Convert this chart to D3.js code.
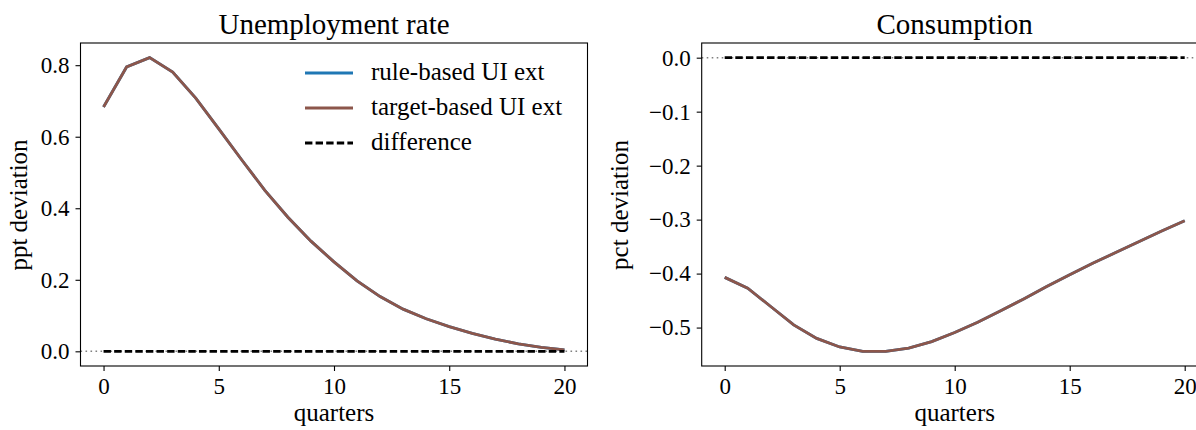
<!DOCTYPE html>
<html>
<head>
<meta charset="utf-8">
<script src="https://cdn.jsdelivr.net/npm/d3@7"></script>
<style>
  html, body { margin: 0; padding: 0; background: #fff; }
  svg { display: block; }
  svg text { font-family: "Liberation Serif", "DejaVu Serif", serif; fill: #000; }
  .tick text { font-size: 23px; }
  .tick line { stroke: #000; stroke-width: 1.1; }
  .spine { fill: none; stroke: #000; stroke-width: 1.1; }
  .title { font-size: 29px; }
  .axis-label { font-size: 25px; }
  .legend-text { font-size: 25px; }
</style>
</head>
<body>
<svg id="chart" width="1196" height="430"></svg>
<script>
const QUARTERS = d3.range(0, 21);
const UNEMP_RULE = [0.683, 0.795, 0.821, 0.781, 0.708, 0.622, 0.535, 0.450, 0.375, 0.308, 0.250,
  0.197, 0.153, 0.118, 0.091, 0.069, 0.050, 0.034, 0.021, 0.011, 0.004];
const UNEMP_TARGET = [0.683, 0.795, 0.821, 0.781, 0.708, 0.622, 0.535, 0.450, 0.375, 0.308, 0.250,
  0.197, 0.153, 0.118, 0.091, 0.069, 0.050, 0.034, 0.021, 0.011, 0.004];
const CONS_RULE = [-0.407, -0.427, -0.461, -0.495, -0.520, -0.536, -0.544, -0.544, -0.538, -0.526, -0.509,
  -0.490, -0.469, -0.447, -0.424, -0.402, -0.381, -0.361, -0.341, -0.321, -0.302];
const CONS_TARGET = [-0.407, -0.427, -0.461, -0.495, -0.520, -0.536, -0.544, -0.544, -0.538, -0.526, -0.509,
  -0.490, -0.469, -0.447, -0.424, -0.402, -0.381, -0.361, -0.341, -0.321, -0.302];
const X_TICKS = [0, 5, 10, 15, 20];
const UNEMP_TICKS = [0, 0.2, 0.4, 0.6, 0.8];
const CONS_TICKS = [0, -0.1, -0.2, -0.3, -0.4, -0.5];
const LEGEND_LABELS = ["rule-based UI ext", "target-based UI ext", "difference"];

const BLUE = "#1f77b4", BROWN = "#8c564b";
const TOP = 43, BOTTOM = 366;
const svg = d3.select("#chart");

// matplotlib-style 5% margins
function padded(vals) {
  const lo = d3.min(vals), hi = d3.max(vals), p = (hi - lo) * 0.05;
  return [lo - p, hi + p];
}

function drawPanel(opts) {
  const g = svg.append("g");
  const x = d3.scaleLinear().domain(padded(QUARTERS)).range([opts.left, opts.right]);
  const y = d3.scaleLinear().domain(padded([0, ...opts.rule, ...opts.target])).range([BOTTOM, TOP]);
  const diff = opts.rule.map((v, i) => v - opts.target[i]);
  const line = d3.line().x((d, i) => x(QUARTERS[i])).y(d => y(d));

  g.append("g")
    .attr("transform", `translate(0,${BOTTOM})`)
    .call(d3.axisBottom(x).tickValues(X_TICKS).tickSize(5).tickPadding(7).tickSizeOuter(0))
    .call(a => a.attr("font-family", null).attr("font-size", null))
    .call(a => a.select(".domain").remove());

  g.append("g")
    .attr("transform", `translate(${opts.left},0)`)
    .call(d3.axisLeft(y).tickValues(opts.yTicks).tickSize(5).tickPadding(6)
      .tickFormat(d => d3.format(".1f")(d).replace("-", "\u2212")))
    .call(a => a.attr("font-family", null).attr("font-size", null))
    .call(a => a.select(".domain").remove());

  // axhline at zero
  g.append("line")
    .attr("x1", opts.left).attr("x2", opts.right)
    .attr("y1", y(0)).attr("y2", y(0))
    .attr("stroke", "#808080").attr("stroke-width", 1.6)
    .attr("stroke-dasharray", "1.6,3.4");

  g.append("path").datum(opts.rule).attr("d", line)
    .attr("fill", "none").attr("stroke", BLUE).attr("stroke-width", 2.8);
  g.append("path").datum(opts.target).attr("d", line)
    .attr("fill", "none").attr("stroke", BROWN).attr("stroke-width", 2.8);
  g.append("path").datum(diff).attr("d", line)
    .attr("fill", "none").attr("stroke", "#000").attr("stroke-width", 2.8)
    .attr("stroke-dasharray", "7.4,3.2");

  g.append("rect")
    .attr("class", "spine")
    .attr("x", opts.left).attr("y", TOP)
    .attr("width", opts.right - opts.left).attr("height", BOTTOM - TOP);

  const cx = (opts.left + opts.right) / 2;
  g.append("text").attr("class", "title")
    .attr("x", cx).attr("y", 34).attr("text-anchor", "middle").text(opts.title);
  g.append("text").attr("class", "axis-label")
    .attr("x", cx).attr("y", 421).attr("text-anchor", "middle").text("quarters");
  g.append("text").attr("class", "axis-label")
    .attr("transform", `translate(${opts.yLabelX},205) rotate(-90)`)
    .attr("text-anchor", "middle").text(opts.yLabel);
  return g;
}

const left = drawPanel({
  left: 80.5, right: 587.5, title: "Unemployment rate", yLabel: "ppt deviation", yLabelX: 27,
  rule: UNEMP_RULE, target: UNEMP_TARGET, yTicks: UNEMP_TICKS
});

drawPanel({
  left: 701.7, right: 1207.7, title: "Consumption", yLabel: "pct deviation", yLabelX: 628,
  rule: CONS_RULE, target: CONS_TARGET, yTicks: CONS_TICKS
});

// legend
const legend = left.append("g");
const styles = [
  { stroke: BLUE, dash: null },
  { stroke: BROWN, dash: null },
  { stroke: "#000", dash: "7.4,3.2" }
];
LEGEND_LABELS.forEach((label, i) => {
  const ly = 73 + i * 35;
  legend.append("line")
    .attr("x1", 305).attr("x2", 353).attr("y1", ly).attr("y2", ly)
    .attr("stroke", styles[i].stroke).attr("stroke-width", 2.8)
    .attr("stroke-dasharray", styles[i].dash);
  legend.append("text").attr("class", "legend-text")
    .attr("x", 371).attr("y", ly + 7).text(label);
});
</script>
</body>
</html>
